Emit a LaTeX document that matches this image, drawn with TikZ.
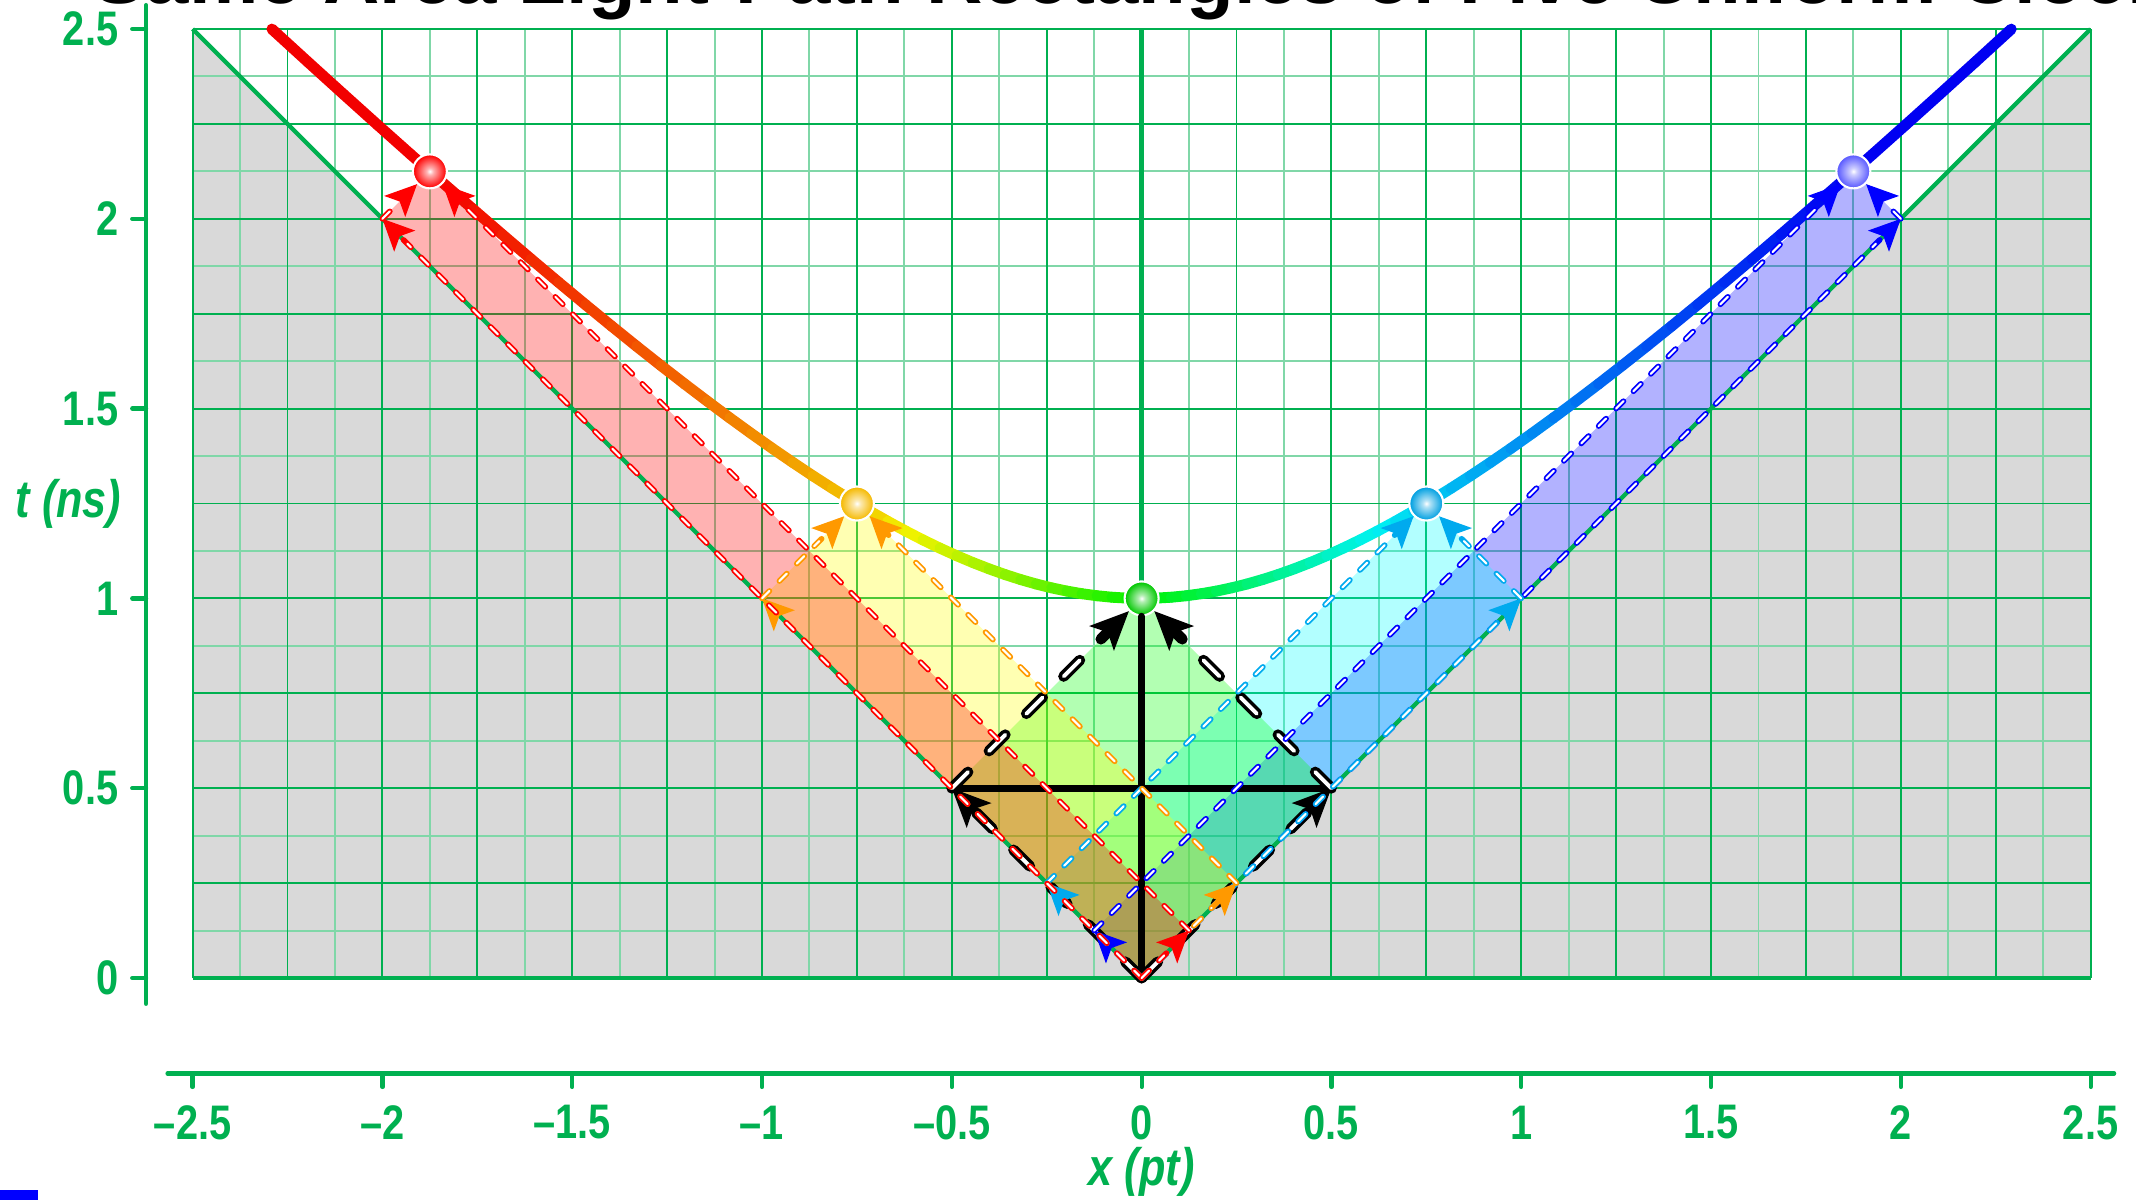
\documentclass[tikz,border=0pt]{standalone}
\usepackage{fontspec}
\setmainfont{Liberation Sans}
\newfontfamily\axisfont[FakeStretch=0.82]{Liberation Sans}
\usepackage{xcolor}
\definecolor{stgreen}{RGB}{0,176,80}
\definecolor{stgrey}{RGB}{217,217,217}
\definecolor{storange}{RGB}{255,153,0}
\definecolor{stcyan}{RGB}{0,170,238}
\definecolor{stgold}{RGB}{245,185,0}
\definecolor{stleaf}{RGB}{0,200,0}
\definecolor{stsky}{RGB}{0,160,225}
\definecolor{stlilac}{RGB}{90,90,255}
\definecolor{fillred}{RGB}{255,0,0}
\definecolor{fillyellow}{RGB}{255,255,0}
\definecolor{fillgreen}{RGB}{0,255,0}
\definecolor{fillcyan}{RGB}{0,255,255}
\definecolor{fillblue}{RGB}{0,0,255}
\usepackage{tikz}
\usetikzlibrary{arrows.meta, positioning, calc}
\colorlet{ballfill}{red}
\pgfdeclareradialshading[ballfill]{eventball}{\pgfpoint{0bp}{0bp}}{%
  color(0bp)=(white); color(5bp)=(ballfill!30!white);
  color(24bp)=(ballfill); color(50bp)=(ballfill!85!black)}

\begin{document}
\begin{tikzpicture}[x=3.796cm, y=3.796cm,
  gridmajor/.style={stgreen, line width=0.55pt},
  gridminor/.style={stgreen!50, line width=0.55pt},
  coneline/.style={stgreen, line width=1.2pt},
  axisline/.style={stgreen, line width=1.2pt, line cap=round},
  ticklabel/.style={font=\axisfont\bfseries\fontsize{13.8}{15}\selectfont, text=stgreen, inner sep=0pt},
  axislabel/.style={font=\axisfont\bfseries\itshape\fontsize{15}{17}\selectfont, text=stgreen, inner sep=0pt},
  ball/.style={circle, inner sep=0pt, minimum size=0.34cm, draw=white, line width=0.6pt,
    /utils/exec={\colorlet{ballfill}{#1}}, shading=eventball},
  lightpath/.style={draw=#1, line width=1.6pt, line cap=round, dash pattern=on 3pt off 4pt,
    -{Stealth[length=9pt, width=8.5pt, inset=2pt, line width=0pt]},
    postaction={draw=white, line width=0.6pt, -, shorten >=10pt}},
  blackpath/.style={draw=black, line width=3.1pt, line cap=round, dash pattern=on 6.5pt off 8.5pt,
    -{Stealth[length=11pt, width=10pt, inset=2.5pt, line width=0pt]},
    postaction={draw=white, line width=1.1pt, -, shorten >=12.5pt}},
  blackline/.style={black, line width=2.1pt, line cap=round}]

\useasboundingbox (-3.0074,-0.5822) rectangle (2.6196,2.5764);

% Title (runs off the top edge)
\node[font=\bfseries\fontsize{22.2}{26}\selectfont, anchor=base west, inner sep=0pt] (title)
  at (-2.762,2.566) {Same Area Light-Path Rectangles of Five Uniform Clocks};

% --- outside the light cone ---
\fill[stgrey] (-2.5,2.5) -- (0,0) -- (2.5,2.5) -- (2.5,0) -- (-2.5,0) -- cycle;

% --- grid ---
\foreach \gx in {-2.375,-2.125,...,2.4} \draw[gridminor] (\gx,0) -- (\gx,2.5);
\foreach \gt in {0.125,0.375,...,2.4} \draw[gridminor] (-2.5,\gt) -- (2.5,\gt);
\foreach \gx in {-2.5,-2.25,...,2.6} \draw[gridmajor] (\gx,0) -- (\gx,2.5);
\foreach \gt in {0.25,0.5,...,2.6} \draw[gridmajor] (-2.5,\gt) -- (2.5,\gt);

% --- events and light-path corners ---
\coordinate (O) at (0,0);
\foreach \n/\x/\t in {R/-1.875/2.125, Y/-0.75/1.25, G/0/1, C/0.75/1.25, B/1.875/2.125} {
  \pgfmathsetmacro\a{(\t-\x)/2}
  \pgfmathsetmacro\b{(\t+\x)/2}
  \coordinate (e\n) at (\x,\t);
  \coordinate (l\n) at (-\a,\a);
  \coordinate (r\n) at (\b,\b);
}

% Rectangles of equal area
\foreach \n/\c in {B/fillblue, C/fillcyan, G/fillgreen, Y/fillyellow, R/fillred}
  \fill[\c, fill opacity=0.3] (O) -- (l\n) -- (e\n) -- (r\n) -- cycle;

% Light cone and axes of the diagram
\draw[coneline] (-2.5,2.5) -- (O) -- (2.5,2.5);
\draw[coneline, line width=1.3pt] (-2.5,0) -- (2.5,0);
\draw[coneline, line width=1.4pt] (O) -- (0,2.5);

% --- hyperbola t^2 - x^2 = 1, rainbow coloured ---
\foreach \i in {0,...,79} {
  \pgfmathsetmacro\etaA{-1.5668+\i*0.03917}
  \pgfmathsetmacro\etaB{\etaA+0.03917}
  \pgfmathsetmacro\etaM{\etaA+0.019585}
  \pgfmathsetmacro\hue{ifthenelse(\etaM<-1.3863,0,
    ifthenelse(\etaM<-0.6931,48*(\etaM+1.3863)/0.6931,
    ifthenelse(\etaM<0,48+72*(\etaM+0.6931)/0.6931,
    ifthenelse(\etaM<0.6931,120+70*\etaM/0.6931,
    ifthenelse(\etaM<1.3863,190+50*(\etaM-0.6931)/0.6931,240)))))}
  \definecolor{curvecol}{Hsb}{\hue,1,0.95}
  \draw[curvecol, line width=3.1pt, line cap=round]
    ({sinh(\etaA)},{cosh(\etaA)}) -- ({sinh(\etaB)},{cosh(\etaB)});
}

% Clock events
\foreach \n/\c in {R/red, Y/stgold, G/stleaf, C/stsky, B/stlilac}
  \node[ball=\c] (b\n) at (e\n) {};

% --- rest clock: black light paths ---
\draw[blackline] (O) -- (bG);
\draw[blackline] (lG) -- (rG);
\draw[blackpath] (O) -- (lG);
\draw[blackpath] (O) -- (rG);
\draw[blackpath] (lG) -- (bG);
\draw[blackpath] (rG) -- (bG);

% --- moving clocks ---
\foreach \n/\c in {B/blue, C/stcyan, Y/storange, R/red} {
  \draw[lightpath=\c] (O) -- (l\n);
  \draw[lightpath=\c] (O) -- (r\n);
  \draw[lightpath=\c] (l\n) -- (b\n);
  \draw[lightpath=\c] (r\n) -- (b\n);
}

% --- t axis ---
\draw[axisline] (-2.6226,-0.068) -- (-2.6226,2.563);
\foreach \v [count=\k] in {0,0.5,1,1.5,2,2.5} {
  \draw[axisline] (-2.6226,\v) -- (-2.659,\v);
  \node[ticklabel, anchor=east] (tl\k) at (-2.694,\v) {\v};
}
\node[axislabel] (tlabel) at (-2.827,1.249) {t (ns)};

% --- x axis ---
\draw[axisline] (-2.566,-0.2513) -- (2.562,-0.2513);
\foreach \v/\lab [count=\k] in {-2.5/–2.5, -2/–2, -1.5/–1.5, -1/–1, -0.5/–0.5, 0/0,
                               0.5/0.5, 1/1, 1.5/1.5, 2/2, 2.5/2.5} {
  \draw[axisline] (\v,-0.2513) -- (\v,-0.287);
  \node[ticklabel] (xl\k) at (\v,-0.3806) {\lab};
}
\node[axislabel] (xlabel) at (0,-0.51) {x (pt)};

% legend swatch cut off at the corner
\fill[blue] (-3.02,-0.6) rectangle (-2.907,-0.5585);

\end{tikzpicture}
\end{document}
